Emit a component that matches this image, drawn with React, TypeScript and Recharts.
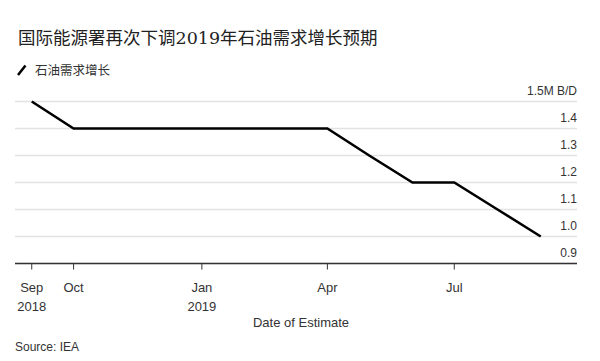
import React from 'react';
import { LineChart, Line, XAxis, YAxis, CartesianGrid } from 'recharts';

// ---- data ----
const estimateDates = [
  '2018-09-01', '2018-10-01', '2018-11-01', '2018-12-01', '2019-01-01', '2019-02-01',
  '2019-03-01', '2019-04-01', '2019-05-01', '2019-06-01', '2019-07-01', '2019-08-01', '2019-09-01',
];
const demandGrowth = [1.5, 1.4, 1.4, 1.4, 1.4, 1.4, 1.4, 1.4, 1.3, 1.2, 1.2, 1.1, 1.0];
const xTickDates = ['2018-09-01', '2018-10-01', '2019-01-01', '2019-04-01', '2019-07-01'];
const xTickLabels = [['Sep', '2018'], ['Oct'], ['Jan', '2019'], ['Apr'], ['Jul']];
const yTicks = [0.9, 1.0, 1.1, 1.2, 1.3, 1.4, 1.5];
const xDomainDates = ['2018-08-20', '2019-09-27'];

const title = '国际能源署再次下调2019年石油需求增长预期';
const seriesName = '石油需求增长';
const yUnit = 'M B/D';
const xTitle = 'Date of Estimate';
const source = 'Source: IEA';

const ts = (s: string) => {
  const [y, m, d] = s.split('-').map(Number);
  return Date.UTC(y, m - 1, d);
};

const data = estimateDates.map((d, i) => ({ t: ts(d), v: demandGrowth[i] }));
const xTicks = xTickDates.map(ts);

const FONT = '"Liberation Sans", Arial, "Noto Sans CJK SC", sans-serif';
const TXT = '#333';

const XTick = (props: any) => {
  const { x, y, payload } = props;
  const idx = xTicks.indexOf(payload.value);
  const lines = idx >= 0 ? xTickLabels[idx] : [];
  return (
    <text x={x} y={y} textAnchor="middle" fill={TXT} fontSize={13} fontFamily={FONT}>
      {lines.map((l, i) => (
        <tspan key={i} x={x} dy={i === 0 ? 20 : 19}>{l}</tspan>
      ))}
    </text>
  );
};

const YTick = (props: any) => {
  const { x, y, payload } = props;
  const v = Number(payload.value);
  const isTop = v === yTicks[yTicks.length - 1];
  const label = v.toFixed(1) + (isTop ? yUnit : '');
  return (
    <text x={x} y={y - 7} textAnchor="end" fill={TXT} fontSize={12} fontFamily={FONT}>
      {label}
    </text>
  );
};

export default function App() {
  return (
    <div style={{ position: 'absolute', left: 0, top: 0, width: 600, height: 361, background: '#fff', fontFamily: FONT }}>
      <div
        style={{
          position: 'absolute', left: 18, top: 28, fontSize: 17.5, lineHeight: '20px',
          color: '#222', fontFamily: '"DejaVu Serif", "Noto Sans CJK SC", serif', whiteSpace: 'nowrap',
        }}
      >
        {title}
      </div>
      <div style={{ position: 'absolute', left: 17, top: 62, width: 10, height: 12 }}>
        <svg width={10} height={12}>
          <line x1={1} y1={11} x2={8.5} y2={1.5} stroke="#000" strokeWidth={2.5} />
        </svg>
      </div>
      <div
        style={{
          position: 'absolute', left: 35, top: 62, fontSize: 12.5, lineHeight: '16px', color: TXT,
          fontFamily: '"Noto Sans CJK SC", sans-serif', whiteSpace: 'nowrap',
        }}
      >
        {seriesName}
      </div>
      <LineChart
        width={600}
        height={361}
        data={data}
        margin={{ top: 101.5, right: 23, bottom: 67.5, left: 15 }}
      >
        <CartesianGrid horizontal vertical={false} stroke="#e2e2e2" strokeWidth={1.3} />
        <XAxis
          dataKey="t"
          type="number"
          domain={[ts(xDomainDates[0]), ts(xDomainDates[1])]}
          allowDataOverflow
          ticks={xTicks}
          interval={0}
          height={30}
          axisLine={{ stroke: '#333', strokeWidth: 1.5 }}
          tickLine={{ stroke: '#333', strokeWidth: 1 }}
          tickSize={6}
          tick={<XTick />}
        />
        <YAxis
          orientation="right"
          mirror
          type="number"
          domain={[0.9, 1.5]}
          ticks={yTicks}
          interval={0}
          width={60}
          axisLine={false}
          tickLine={false}
          tickSize={0}
          tickMargin={0}
          tick={<YTick />}
        />
        <Line
          type="linear"
          dataKey="v"
          stroke="#000"
          strokeWidth={2.6}
          dot={false}
          isAnimationActive={false}
          strokeLinejoin="miter"
        />
      </LineChart>
      <div
        style={{
          position: 'absolute', left: 0, width: 602, top: 314, textAlign: 'center', fontSize: 13,
          lineHeight: '18px', color: TXT,
        }}
      >
        {xTitle}
      </div>
      <div style={{ position: 'absolute', left: 15, top: 339, fontSize: 12, lineHeight: '16px', color: TXT }}>
        {source}
      </div>
    </div>
  );
}
